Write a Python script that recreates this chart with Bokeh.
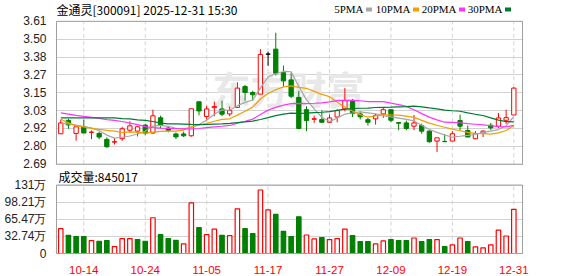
import pandas as pd
from bokeh.plotting import figure
from bokeh.models import Range1d, FixedTicker, Grid, Label, ColumnDataSource
from bokeh.core.properties import value
from bokeh.embed import file_html
from bokeh.resources import INLINE

# ---------------- data ----------------
dates = ["10-09", "10-10", "10-13", "10-14", "10-15", "10-16", "10-17", "10-20", "10-21", "10-22",
         "10-23", "10-24", "10-27", "10-28", "10-29", "10-30", "10-31", "11-03", "11-04", "11-05",
         "11-06", "11-07", "11-10", "11-11", "11-12", "11-13", "11-14", "11-17", "11-18", "11-19",
         "11-20", "11-21", "11-24", "11-25", "11-26", "11-27", "11-28", "12-01", "12-02", "12-03",
         "12-04", "12-05", "12-08", "12-09", "12-10", "12-11", "12-12", "12-15", "12-16", "12-17",
         "12-18", "12-19", "12-22", "12-23", "12-24", "12-25", "12-26", "12-29", "12-30", "12-31"]

opens = [2.886, 2.972, 2.888, 2.933, 2.895, 2.888, 2.850, 2.832, 2.854, 2.909,
         2.903, 2.942, 2.891, 2.989, 2.923, 2.885, 2.885, 2.873, 3.092, 2.997,
         3.054, 3.046, 3.014, 3.056, 3.190, 3.152, 3.141, 3.399, 3.431, 3.280,
         3.233, 3.120, 3.041, 2.979, 2.977, 2.960, 2.994, 3.046, 3.095, 3.014,
         2.977, 2.982, 3.014, 3.041, 2.958, 2.956, 2.935, 2.939, 2.903, 2.839,
         2.837, 2.839, 2.971, 2.907, 2.854, 2.888, 2.941, 2.935, 2.973, 3.007]
highs = [2.977, 2.982, 2.931, 2.977, 2.907, 2.900, 2.863, 2.859, 2.931, 2.966,
         2.935, 2.950, 3.041, 3.003, 2.935, 2.894, 2.900, 3.047, 3.096, 3.067,
         3.094, 3.099, 3.061, 3.218, 3.201, 3.163, 3.431, 3.414, 3.537, 3.325,
         3.280, 3.162, 3.063, 3.003, 3.037, 3.010, 3.046, 3.180, 3.110, 3.031,
         2.988, 3.014, 3.058, 3.041, 2.958, 2.971, 3.007, 2.952, 2.909, 2.860,
         2.885, 2.903, 3.009, 2.939, 2.903, 2.909, 2.956, 3.020, 3.041, 3.186]
lows = [2.886, 2.918, 2.841, 2.891, 2.852, 2.851, 2.794, 2.817, 2.841, 2.894,
        2.869, 2.877, 2.887, 2.922, 2.895, 2.852, 2.865, 2.867, 3.005, 2.978,
        2.999, 2.999, 2.999, 3.052, 3.099, 3.099, 3.141, 3.324, 3.261, 3.190,
        3.116, 2.915, 2.903, 2.956, 2.956, 2.955, 2.960, 3.031, 2.994, 2.978,
        2.939, 2.945, 2.988, 2.960, 2.909, 2.909, 2.909, 2.886, 2.828, 2.769,
        2.835, 2.839, 2.909, 2.865, 2.854, 2.865, 2.909, 2.924, 2.950, 3.007]
closes = [2.956, 2.943, 2.931, 2.891, 2.897, 2.865, 2.803, 2.835, 2.918, 2.937,
          2.931, 2.890, 3.002, 2.941, 2.907, 2.866, 2.873, 3.047, 3.033, 3.046,
          3.062, 3.012, 3.035, 3.180, 3.152, 3.137, 3.397, 3.399, 3.276, 3.227,
          3.128, 2.920, 2.971, 2.983, 2.960, 2.988, 3.035, 3.099, 3.016, 2.995,
          2.960, 3.005, 3.041, 2.973, 2.954, 2.920, 2.956, 2.903, 2.835, 2.860,
          2.835, 2.886, 2.935, 2.865, 2.886, 2.903, 2.924, 2.988, 2.990, 3.180]
volumes = [475000, 348000, 323000, 323000, 247000, 234000, 247000, 133000, 285000, 285000,
           266000, 234000, 684000, 361000, 285000, 253000, 184000, 968000, 494000, 361000,
           468000, 348000, 342000, 854000, 475000, 380000, 1215000, 835000, 747000, 424000,
           323000, 703000, 354000, 278000, 304000, 266000, 285000, 468000, 342000, 228000,
           228000, 184000, 241000, 266000, 247000, 247000, 297000, 228000, 266000, 266000,
           133000, 165000, 297000, 228000, 127000, 108000, 165000, 449000, 335000, 845017]

# moving-average values before a full window exists
ma5_lead = [2.955, 2.950, 2.942, 2.933]
ma10_lead = [2.980, 2.956, 2.937, 2.930, 2.921, 2.914, 2.908, 2.903, 2.894]
ma20_lead = [3.020, 3.013, 3.005, 2.998, 2.992, 2.985, 2.977, 2.972, 2.965, 2.955,
             2.945, 2.932, 2.925, 2.922, 2.920, 2.920, 2.918, 2.918, 2.920]
ma30_lead = [2.988, 2.988, 2.988, 2.988, 2.988, 2.988, 2.988, 2.988, 2.984, 2.982,
             2.975, 2.972, 2.965, 2.955, 2.950, 2.950, 2.948, 2.946, 2.945, 2.946,
             2.948, 2.950, 2.953, 2.958, 2.962, 2.968, 2.978, 2.990, 3.003]

price_ticks = [2.69, 2.805, 2.92, 3.035, 3.15, 3.265, 3.38, 3.495, 3.61]
price_labels = ["2.69", "2.80", "2.92", "3.03", "3.15", "3.27", "3.38", "3.50", "3.61"]
vol_ticks = [0, 327375, 654750, 982125, 1309500]
vol_labels = ["0", "32.74万", "65.47万", "98.21万", "131万"]
date_ticks = ["10-14", "10-24", "11-05", "11-17", "11-27", "12-09", "12-19", "12-31"]

title_text = "金通灵[300091] 2025-12-31 15:30"
vol_title = "成交量:845017"
ma_names = ["5PMA", "10PMA", "20PMA", "30PMA"]
ma_colors = ["#a6a6a6", "#f0a000", "#ff33ff", "#007a33"]

# ---------------- layout (pixels of the 578x276 canvas) ----------------
W, H = 578, 276
FL, FR, FT, FB = 55, 523, 0, 256          # plotting frame
X0_PX, DX_PX = 60.26, 7.679               # candle 0 centre, candle spacing
PT_PX, PB_PX = 21, 165                    # price panel top / bottom
VT_PX, VB_PX = 186, 255                   # volume panel top / bottom
PX_LEFT, PX_RIGHT = 56, 522               # panel borders


def xdata(px):
    return (px - X0_PX) / DX_PX


p_per_px = (price_ticks[-1] - price_ticks[0]) / (PB_PX - PT_PX)
v_per_px = vol_ticks[-1] / (VB_PX - VT_PX)


def pdata(py):
    return price_ticks[-1] - (py - PT_PX) * p_per_px


def vdata(py):
    return (VB_PX - py) * v_per_px


# ---------------- derived ----------------
RED, GREEN, BLACK = "#ff0000", "#008000", "#000000"
n = len(closes)
xs = list(range(n))
s = pd.Series(closes)


def ma(win, lead):
    return lead + s.rolling(win).mean().tolist()[win - 1:]


mas = [ma(5, ma5_lead), ma(10, ma10_lead), ma(20, ma20_lead), ma(30, ma30_lead)]

body_line, body_fill = [], []
for o, c in zip(opens, closes):
    if c > o:
        body_line.append(RED); body_fill.append("#ffffff")
    elif c < o:
        body_line.append(GREEN); body_fill.append(GREEN)
    else:
        body_line.append(BLACK); body_fill.append(BLACK)

vol_line, vol_fill = [], []
for i in range(n):
    prev = closes[i - 1] if i > 0 else opens[i]
    if closes[i] >= prev:
        vol_line.append(RED); vol_fill.append("#ffffff")
    else:
        vol_line.append(GREEN); vol_fill.append(GREEN)

src = ColumnDataSource(dict(
    x=xs, open=opens, high=highs, low=lows, close=closes,
    top=[max(o, c) for o, c in zip(opens, closes)],
    bottom=[min(o, c) for o, c in zip(opens, closes)],
    body_line=body_line, body_fill=body_fill,
    vol=volumes, vol_line=vol_line, vol_fill=vol_fill,
))

tick_idx = [dates.index(d) for d in date_ticks]

GRID = "#d2d2d2"
OUTLINE = "#a0a0a0"
AXIS_FONT = "Liberation Sans"
AXIS_COLOR = "#222222"

p = figure(width=W, height=H,
           x_range=Range1d(xdata(FL), xdata(FR)),
           y_range=Range1d(pdata(FB), pdata(FT)),
           output_backend="svg", toolbar_location=None, tools="",
           min_border_left=FL, min_border_right=W - FR,
           min_border_top=FT, min_border_bottom=H - FB,
           outline_line_color=None)
p.extra_y_ranges = {"vol": Range1d(vdata(FB), vdata(FT))}

# ---- left axis: price ticks + volume ticks expressed on the price scale
vol_tick_pos = [pdata(VB_PX - v / v_per_px) for v in vol_ticks]
all_ticks = price_ticks + vol_tick_pos
all_labels = price_labels + vol_labels
p.yaxis.ticker = FixedTicker(ticks=all_ticks)
p.yaxis.major_label_overrides = dict(zip(all_ticks, all_labels))
p.yaxis.axis_line_color = None
p.yaxis.major_tick_line_color = None
p.yaxis.minor_tick_line_color = None
p.yaxis.major_label_standoff = 3
p.yaxis.major_label_text_font = AXIS_FONT
p.yaxis.major_label_text_font_size = "12px"
p.yaxis.major_label_text_color = AXIS_COLOR

# ---- bottom axis: dates in red
p.xaxis.ticker = FixedTicker(ticks=tick_idx)
p.xaxis.major_label_overrides = {i: d for i, d in zip(tick_idx, date_ticks)}
p.xaxis.axis_line_color = None
p.xaxis.major_tick_line_color = None
p.xaxis.minor_tick_line_color = None
p.xaxis.major_label_standoff = 5
p.xaxis.major_label_text_font = AXIS_FONT
p.xaxis.major_label_text_font_size = "11.5px"
p.xaxis.major_label_text_color = RED

# ---- grids
p.xgrid.visible = False
p.ygrid.ticker = FixedTicker(ticks=price_ticks)
p.ygrid.grid_line_color = GRID
p.add_layout(Grid(dimension=1, y_range_name="vol", ticker=FixedTicker(ticks=vol_ticks),
                  grid_line_color=GRID))
p.segment(x0=tick_idx, y0=[price_ticks[0]] * len(tick_idx), x1=tick_idx,
          y1=[price_ticks[-1]] * len(tick_idx), line_color=GRID, line_dash="4 3", line_width=1)
p.segment(x0=tick_idx, y0=[vol_ticks[0]] * len(tick_idx), x1=tick_idx,
          y1=[vol_ticks[-1]] * len(tick_idx), line_color=GRID, line_dash="4 3", line_width=1,
          y_range_name="vol")

# ---- watermark
p.add_layout(Label(x=xdata(288), y=pdata(88), text="东方财富", text_font="Noto Sans CJK SC",
                   text_font_size="38px", text_font_style="bold", text_color="#e8e8e8",
                   text_align="center", text_baseline="middle", level="underlay"))

# ---- candles
p.segment(x0="x", y0="high", x1="x", y1="low", line_color="body_line", line_width=1, source=src)
p.vbar(x="x", width=0.56, top="top", bottom="bottom", fill_color="body_fill",
       line_color="body_line", line_width=1, source=src)
for m, col in zip(mas, ma_colors):
    p.line(xs, m, line_color=col, line_width=1.2)

# ---- volume bars
p.vbar(x="x", width=0.58, top="vol", bottom=0, fill_color="vol_fill",
       line_color="vol_line", line_width=1.2, source=src, y_range_name="vol")

# ---- panel borders
p.quad(left=[xdata(PX_LEFT)], right=[xdata(PX_RIGHT)], bottom=[price_ticks[0]],
       top=[price_ticks[-1]], fill_color=None, line_color=OUTLINE, line_width=1)
p.quad(left=[xdata(PX_LEFT)], right=[xdata(PX_RIGHT)], bottom=[vol_ticks[0]],
       top=[vol_ticks[-1]], fill_color=None, line_color=OUTLINE, line_width=1,
       y_range_name="vol")

# ---- title, legend, volume caption
p.add_layout(Label(x=xdata(56), y=pdata(9), text=title_text, text_font="Noto Sans CJK SC",
                   text_font_size="12px", text_color="#000000",
                   text_align="left", text_baseline="middle"))
legend_end = [363, 410, 456, 502]
for name, xe in zip(ma_names, legend_end):
    p.add_layout(Label(x=xdata(xe), y=pdata(9), text=name, text_font="Liberation Serif",
                       text_font_size="11px", text_color="#000000",
                       text_align="right", text_baseline="middle"))
p.quad(left=[xdata(e + 2.5) for e in legend_end], right=[xdata(e + 8.5) for e in legend_end],
       top=[pdata(7)] * 4, bottom=[pdata(11)] * 4, fill_color=ma_colors, line_color=None)

p.add_layout(Label(x=xdata(58), y=pdata(177), text=vol_title, text_font="Noto Sans CJK SC",
                   text_font_size="12px", text_color="#000000",
                   text_align="left", text_baseline="middle"))

open("out.html", "w").write(file_html(p, INLINE))
